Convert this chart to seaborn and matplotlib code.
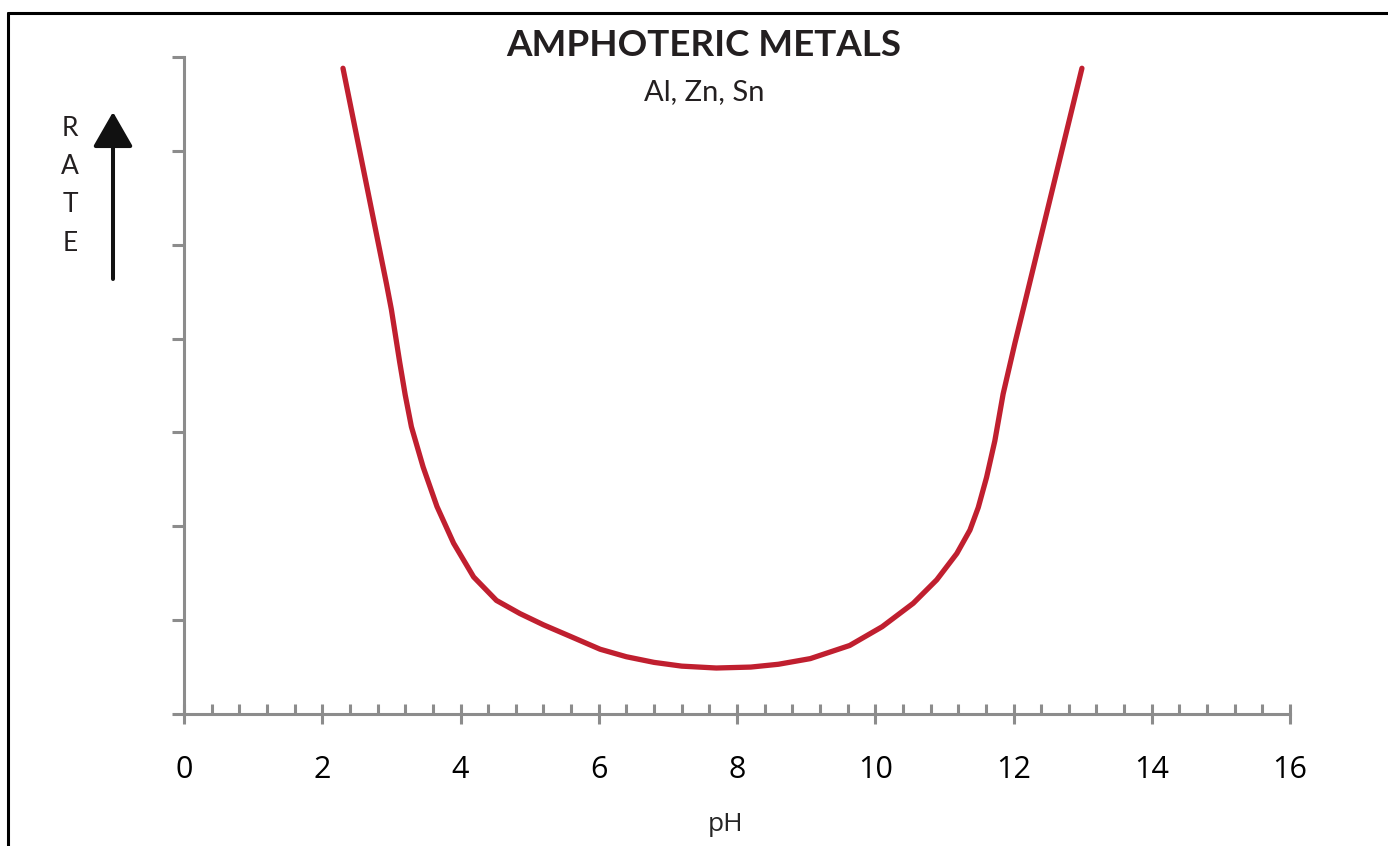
import numpy as np
import pandas as pd
import matplotlib
matplotlib.use("Agg")
import matplotlib.pyplot as plt
from matplotlib.lines import Line2D
from matplotlib.ticker import MultipleLocator
import seaborn as sns

# values (pH vs relative rate, one y unit per tick)
ph = [2.30, 2.64, 2.93, 3.00, 3.06, 3.12, 3.20, 3.29, 3.46, 3.66, 3.90, 4.19,
      4.52, 4.86, 5.20, 5.58, 6.02, 6.40, 6.80, 7.20, 7.70, 8.20, 8.60, 9.06,
      9.63, 10.10, 10.55, 10.89, 11.18, 11.37, 11.49, 11.61, 11.73, 11.85,
      12.02, 12.17, 12.58, 12.99]
rate = [6.88, 5.64, 4.58, 4.31, 4.03, 3.75, 3.40, 3.06, 2.63, 2.21, 1.82, 1.46,
        1.21, 1.07, 0.95, 0.83, 0.69, 0.61, 0.55, 0.51, 0.49, 0.50, 0.53, 0.59,
        0.73, 0.93, 1.18, 1.43, 1.71, 1.96, 2.20, 2.52, 2.91, 3.41,
        3.95, 4.40, 5.64, 6.88]
title = "AMPHOTERIC METALS"
subtitle = "Al, Zn, Sn"
x_label = "pH"
y_label = "RATE"

df = pd.DataFrame({"pH": ph, "rate": rate})

sns.set_theme(style="white")
plt.rcParams["font.family"] = ["Open Sans", "DejaVu Sans"]

axis_grey = "#8c8c8c"
text_dark = "#231f20"
geo_font = ["Lato", "DejaVu Sans"]

fig = plt.figure(figsize=(13.88, 8.46), dpi=100)
ax = fig.add_axes([184 / 1388, 1 - 714 / 846, (1290 - 184) / 1388, (714 - 57) / 846])

sns.lineplot(data=df, x="pH", y="rate", ax=ax, color="#c01f2f", linewidth=3.8,
             sort=False, estimator=None)

ax.set_xlim(0, 16)
ax.set_ylim(0, 7)
ax.set_xlabel("")
ax.set_ylabel("")
for side in ["top", "right"]:
    ax.spines[side].set_visible(False)
for side in ["left", "bottom"]:
    ax.spines[side].set_color(axis_grey)
    ax.spines[side].set_linewidth(2.2)

# x ticks: major crossing the axis, minor pointing up
ax.xaxis.set_major_locator(MultipleLocator(2))
ax.xaxis.set_minor_locator(MultipleLocator(0.4))
ax.tick_params(axis="x", which="major", direction="inout", length=15, width=2.2,
               color=axis_grey, labelsize=22, pad=22, labelcolor="black", bottom=True)
ax.tick_params(axis="x", which="minor", direction="in", length=7, width=2.2,
               color=axis_grey, bottom=True)
ax.yaxis.set_major_locator(MultipleLocator(1))
ax.tick_params(axis="y", which="major", direction="out", length=9, width=2.2,
               color=axis_grey, labelleft=False, left=True)

fig.text(726 / 1388, 1 - 824 / 846, x_label, ha="center", va="center", fontsize=19)

# title block
fig.text(704 / 1388, 1 - 46 / 846, title, ha="center", va="center", fontsize=26.5,
         fontweight="bold", family=geo_font, color=text_dark)
fig.text(704 / 1388, 1 - 92 / 846, subtitle, ha="center", va="center", fontsize=21,
         family=geo_font, color=text_dark)

# stacked RATE label with arrow
for i, ch in enumerate(y_label):
    fig.text(70 / 1388, 1 - (128 + i * 38.5) / 846, ch, ha="center", va="center",
             fontsize=19, family=geo_font, color=text_dark)
ax.annotate("", xy=(113 / 1388, 1 - 112 / 846), xycoords="figure fraction",
            xytext=(113 / 1388, 1 - 279 / 846), textcoords="figure fraction",
            arrowprops=dict(arrowstyle="-|>,head_length=1.08,head_width=0.62",
                            mutation_scale=20, color="#111111", lw=2.9,
                            shrinkA=0, shrinkB=0),
            annotation_clip=False)

# frame around the picture (only top and left edges show)
fig.add_artist(Line2D([8 / 1388, 1.0], [1 - 13 / 846, 1 - 13 / 846],
                      transform=fig.transFigure, color="black", lw=2.2))
fig.add_artist(Line2D([8 / 1388, 8 / 1388], [0.0, 1 - 13 / 846],
                      transform=fig.transFigure, color="black", lw=2.2))

fig.savefig("out.png", dpi=100)
